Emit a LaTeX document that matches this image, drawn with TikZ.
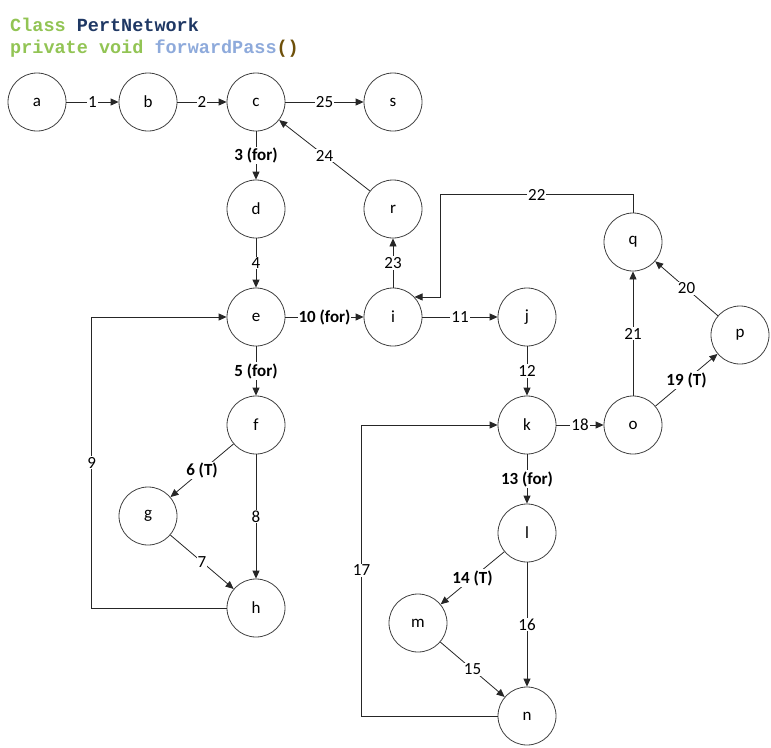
\documentclass[tikz,border=0pt]{standalone}
\usepackage{fontspec}
\setmainfont{Carlito}
\newfontfamily\codefont{Liberation Mono}
\usepackage{tikz}
\usetikzlibrary{positioning}
\usetikzlibrary{arrows.meta}
\definecolor{codegreen}{RGB}{146,196,84}
\definecolor{codenavy}{RGB}{31,56,100}
\definecolor{codeblue}{RGB}{142,170,219}
\definecolor{codebrown}{RGB}{110,80,10}
\newcommand{\pertfont}{\fontsize{17}{20}\selectfont}
\tikzset{pertnode/.style={circle,
                        draw=black!75,
                        line width=0.8pt,
                        minimum size=58pt,
                        inner sep=0pt,
                        font=\pertfont
                        },
        pertedge/.style={->,
                        draw=black!85,
                        line width=0.8pt
        },
        pertlabel/.style={fill=white,
                        inner sep=1pt,
                        font=\pertfont
        },
        forlabel/.style={pertlabel,
                        font=\pertfont\bfseries
        },
        codeline/.style={anchor=base west,
                        inner sep=0pt,
                        font=\codefont\bfseries\fontsize{18.5}{22}\selectfont
        },
}

\begin{document}
\begin{tikzpicture}
    [on grid, >={Triangle[length=8pt,width=7pt]}]

    \useasboundingbox (0pt,0pt) rectangle (771pt,-747pt);

    % HEADER
    \node[codeline] (title) at (10pt,-31pt) {\textcolor{codegreen}{Class} \textcolor{codenavy}{PertNetwork}};
    \node[codeline] (method) at (10pt,-53pt) {\textcolor{codegreen}{private void} \textcolor{codeblue}{forwardPass}\textcolor{codebrown}{()}};

    % TOP ROW
    \node[pertnode] (a) at (37pt,-102pt) {a};
    \node[pertnode, right=111pt of a] (b) {b};
    \node[pertnode, right=108pt of b] (c) {c};
    \node[pertnode, right=137pt of c] (s) {s};

    % LEFT BRANCH
    \node[pertnode, below=107pt of c] (d) {d};
    \node[pertnode, below=108pt of d] (e) {e};
    \node[pertnode, below=108pt of e] (f) {f};
    \node[pertnode, below left=91pt and 108pt of f] (g) {g};
    \node[pertnode, below=183pt of f] (h) {h};

    % MIDDLE
    \node[pertnode, right=137pt of e] (i) {i};
    \node[pertnode, above=108pt of i] (r) {r};
    \node[pertnode, right=134pt of i] (j) {j};
    \node[pertnode, below=108pt of j] (k) {k};
    \node[pertnode, below=108pt of k] (l) {l};
    \node[pertnode, below left=90pt and 109pt of l] (m) {m};
    \node[pertnode, below=183pt of l] (n) {n};

    % RIGHT BRANCH
    \node[pertnode, right=106pt of k] (o) {o};
    \node[pertnode, above=183pt of o] (q) {q};
    \node[pertnode, above right=90pt and 107pt of o] (p) {p};

    \draw[pertedge] (a) -- node[pertlabel] {1} (b);
    \draw[pertedge] (b) -- node[pertlabel] {2} (c);
    \draw[pertedge] (c) -- node[pertlabel] {25} (s);
    \draw[pertedge] (c) -- node[forlabel] {3 (for)} (d);
    \draw[pertedge] (d) -- node[pertlabel] {4} (e);
    \draw[pertedge] (e) -- node[forlabel] {5 (for)} (f);
    \draw[pertedge] (f) -- node[forlabel] {6 (T)} (g);
    \draw[pertedge] (g) -- node[pertlabel] {7} (h);
    \draw[pertedge] (f) -- node[pertlabel] {8} (h);
    \draw[pertedge] (h.west) -- ++(-135pt,0pt) |- node[pertlabel, pos=0.25] {9} (e.west);
    \draw[pertedge] (e) -- node[forlabel] {10 (for)} (i);
    \draw[pertedge] (i) -- node[pertlabel] {11} (j);
    \draw[pertedge] (j) -- node[pertlabel] {12} (k);
    \draw[pertedge] (k) -- node[forlabel] {13 (for)} (l);
    \draw[pertedge] (l) -- node[forlabel] {14 (T)} (m);
    \draw[pertedge] (m) -- node[pertlabel] {15} (n);
    \draw[pertedge] (l) -- node[pertlabel] {16} (n);
    \draw[pertedge] (n.west) -- ++(-136pt,0pt) |- node[pertlabel, pos=0.25] {17} (k.west);
    \draw[pertedge] (k) -- node[pertlabel] {18} (o);
    \draw[pertedge] (o) -- node[forlabel] {19 (T)} (p);
    \draw[pertedge] (p) -- node[pertlabel] {20} (q);
    \draw[pertedge] (o) -- node[pertlabel] {21} (q);
    \draw[pertedge] (q.north) -- ++(0pt,18pt) -| node[pertlabel, pos=0.25] {22} ([xshift=26pt]i.43) -- (i.43);
    \draw[pertedge] (i) -- node[pertlabel] {23} (r);
    \draw[pertedge] (r) -- node[pertlabel] {24} (c);

\end{tikzpicture}
\end{document}
